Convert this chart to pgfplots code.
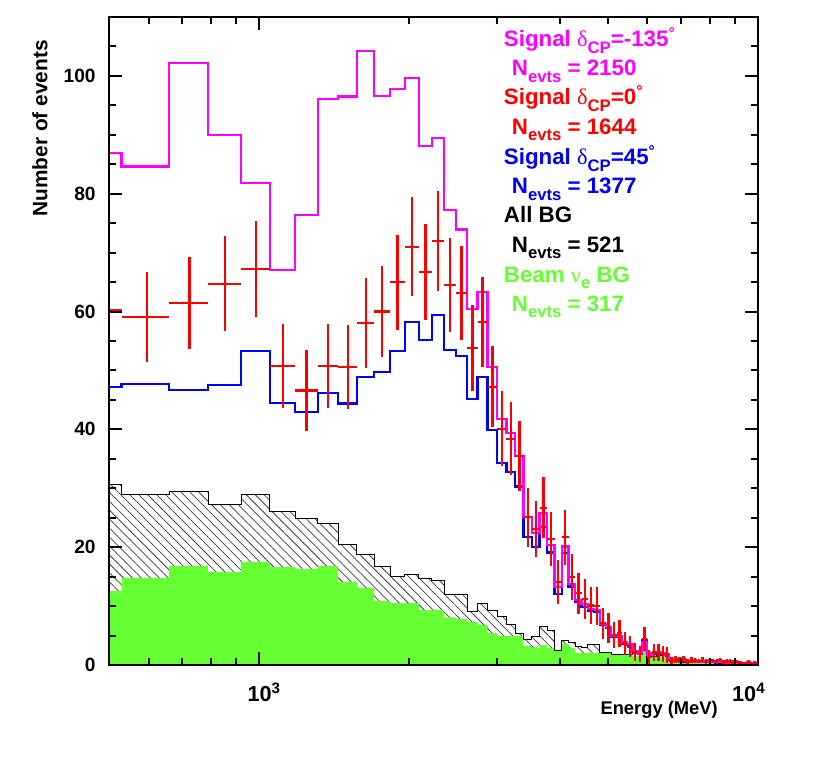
\documentclass[border=0pt]{standalone}
\usepackage{fontspec}
\setmainfont{Liberation Sans}
\newfontfamily\symfont{Liberation Serif}
\usepackage{pgfplots}
\usepackage{pgfplotstable}
\pgfplotsset{compat=1.18}
\usetikzlibrary{patterns.meta}

\definecolor{bggreen}{RGB}{102,255,51}
\definecolor{sigmag}{rgb}{1,0,1}
\definecolor{sigred}{rgb}{1,0,0}
\definecolor{sigblue}{rgb}{0,0,1}
\newcommand\sub[1]{\raisebox{-0.55ex}{\fontsize{10}{10}\selectfont #1}}
\newcommand\legfont{\fontsize{13.4}{14}\selectfont\bfseries}

% bins of 130 MeV: lower edge, centre, signal (-135, 45, 0), error, all BG, beam nue BG
\pgfplotstableread{
lo    c     mag    blu   red   ey    bg    beam
400   465   86.9   47.2  60.3  7.77  30.6  12.6
530   595   84.6   47.7  59.1  7.69  29.0  14.8
660   725   102.2  46.7  61.5  7.84  29.4  16.8
790   855   90.0   47.5  64.7  8.04  27.2  15.8
920   985   81.8   53.3  67.2  8.20  28.9  17.5
1050  1115  67.0   44.5  50.8  7.13  26.0  16.6
1180  1245  76.4   42.9  46.6  6.83  24.8  16.3
1310  1375  96.1   46.2  50.8  7.13  24.1  16.8
1440  1505  96.5   44.4  50.6  7.11  20.4  14.1
1570  1635  104.2  48.9  58.1  7.62  18.8  13.1
1700  1765  96.6   49.7  60.0  7.75  16.7  10.9
1830  1895  97.8   53.3  65.0  8.06  15.1  10.5
1960  2025  99.7   58.2  71.0  8.43  15.3  10.5
2090  2155  88.1   55.2  66.7  8.17  14.6  9.3
2220  2285  89.5   59.4  72.0  8.49  14.4  9.3
2350  2415  77.2   53.5  64.5  8.03  11.9  8.1
2480  2545  73.9   52.5  63.2  7.95  11.9  7.8
2610  2675  60.4   45.2  53.8  7.33  9.0   7.3
2740  2805  63.3   48.9  58.2  7.63  10.5  6.8
2870  2935  50.6   39.9  47.2  6.87  9.2   5.4
3000  3065  41.8   34.3  40.1  6.33  8.2   4.9
3130  3195  39.4   32.8  38.4  6.20  6.8   4.9
3260  3325  35.5   30.3  35.5  5.96  5.4   4.9
3390  3455  25.1   21.7  25.1  5.01  4.4   3.2
3520  3585  22.4   20.0  23.1  4.81  4.9   3.0
3650  3715  25.8   23.4  26.7  5.17  6.5   3.4
3780  3845  20.4   19.1  21.4  4.63  5.8   2.9
3910  3975  13.2   12.1  14.1  3.75  2.5   2.5
4040  4105  20.1   19.0  21.7  4.66  4.2   3.6
4170  4235  13.8   13.3  14.9  3.86  3.9   2.9
4300  4365  11.0   10.7  12.2  3.49  3.2   2.0
4430  4495  10.3   9.8   11.2  3.35  3.0   2.0
4560  4625  9.5    9.2   10.1  3.18  3.4   2.1
4690  4755  9.3    9.0   10.0  3.16  3.4   2.1
4820  4885  7.0    6.8   7.1   2.66  2.2   2.0
4950  5015  6.5    6.3   6.3   2.51  2.2   2.0
5080  5145  5.0    4.8   5.1   2.26  1.8   1.8
5210  5275  4.9    4.7   5.4   2.32  1.8   1.7
5340  5405  3.8    3.6   3.7   1.92  1.8   1.7
5470  5535  3.6    3.4   3.1   1.76  1.8   1.6
5600  5665  2.3    2.2   2.2   1.48  2.0   1.5
5730  5795  2.0    2.0   1.9   1.38  1.7   1.5
5860  5925  3.9    4.2   4.4   2.10  2.4   2.0
5990  6055  1.8    1.7   1.4   1.18  1.2   1.2
6120  6185  2.0    1.9   2.1   1.45  1.5   1.4
6250  6315  2.0    1.9   2.1   1.45  1.6   1.5
6380  6445  2.0    1.9   1.9   1.38  1.6   1.5
6510  6575  1.8    1.7   1.7   1.30  1.4   1.3
6640  6705  1.0    0.9   0.7   0.60  1.0   0.9
6770  6835  0.8    0.8   1.0   0.60  0.9   0.8
6900  6965  0.8    0.7   0.9   0.50  0.9   0.8
7030  7095  0.7    0.6   1.0   0.50  0.8   0.7
7160  7225  0.7    0.6   0.6   0.40  0.8   0.7
7290  7355  0.7    0.6   0.9   0.50  0.7   0.6
7420  7485  0.6    0.6   0.8   0.40  0.7   0.6
7550  7615  0.6    0.5   0.7   0.40  0.7   0.6
7680  7745  0.6    0.5   0.9   0.40  0.6   0.6
7810  7875  0.6    0.5   0.6   0.40  0.6   0.5
7940  8005  0.5    0.5   0.8   0.40  0.6   0.5
8070  8135  0.5    0.5   0.7   0.40  0.6   0.5
8200  8265  0.5    0.4   0.6   0.35  0.5   0.5
8330  8395  0.5    0.4   0.8   0.35  0.5   0.5
8460  8525  0.5    0.4   0.5   0.35  0.5   0.4
8590  8655  0.4    0.4   0.7   0.35  0.5   0.4
8720  8785  0.4    0.4   0.6   0.35  0.5   0.4
8850  8915  0.4    0.4   0.5   0.30  0.4   0.4
8980  9045  0.4    0.3   0.6   0.30  0.4   0.4
9110  9175  0.4    0.3   0.4   0.30  0.4   0.3
9240  9305  0.3    0.3   0.3   0.25  0.4   0.3
9370  9435  0.3    0.3   0.2   0.25  0.3   0.3
9500  9565  0.4    0.3   0.5   0.30  0.3   0.3
9630  9695  0.3    0.3   0.2   0.25  0.3   0.3
9760  9825  0.3    0.3   0.4   0.25  0.3   0.3
9890  9955  0.3    0.2   0.3   0.25  0.3   0.3
10020 10085 0.3    0.2   0.3   0.25  0.3   0.3
}\data

\begin{document}
\begin{tikzpicture}
\begin{axis}[
  scale only axis, width=389.4pt, height=388.8pt,
  xmode=log, xmin=500, xmax=10000, ymin=0, ymax=110,
  axis on top,
  axis line style={line width=1pt},
  tick align=inside, tick pos=both,
  xtick={1000,10000},
  xticklabels={{\hspace*{6pt}10\textsuperscript{3}},{\hspace*{-11pt}10\textsuperscript{4}}},
  minor xtick={600,700,800,900,2000,3000,4000,5000,6000,7000,8000,9000},
  ytick={0,20,...,100},
  minor ytick={5,10,...,105},
  major tick length=8pt, minor tick length=4.2pt,
  every major tick/.append style={draw=black, line width=1.2pt},
  every minor tick/.append style={draw=black, line width=1.2pt},
  /pgf/number format/assume math mode=true,
  yticklabel style={font=\fontsize{11.5}{12}\selectfont\bfseries, xshift=-4.5pt},
  xticklabel style={font=\fontsize{13}{14}\selectfont\bfseries, yshift=-7.5pt},
  xlabel={Energy (MeV)},
  ylabel={Number of events},
  xlabel style={at={(axis description cs:0.9384,-0.056)}, anchor=north east,
    inner sep=0pt, font=\fontsize{11}{12}\selectfont\bfseries},
  ylabel style={at={(axis description cs:-0.1063,0.9645)}, anchor=east,
    inner sep=0pt, font=\fontsize{12.5}{13}\selectfont\bfseries},
]
% all background, hatched
\addplot[const plot mark left, draw=none,
  pattern={Lines[angle=-45, distance=3.8pt, line width=0.45pt]},
  pattern color=black!75] table[x=lo, y=bg] \data \closedcycle;
% beam nue background, filled
\addplot[const plot mark left, draw=none, fill=bggreen]
  table[x=lo, y=beam] \data \closedcycle;
\addplot[const plot mark left, black, line width=0.6pt] table[x=lo, y=bg] \data;
% signal delta_CP = 45
\addplot[const plot mark left, sigblue, line width=1.4pt] table[x=lo, y=blu] \data;
% signal delta_CP = -135
\addplot[const plot mark left, sigmag, line width=1.4pt] table[x=lo, y=mag] \data;
% signal delta_CP = 0, crosses
\addplot[draw=none, mark=none,
  error bars/.cd, x dir=both, x fixed=65, y dir=both, y explicit,
  error mark=none, error bar style={draw=sigred, line width=1.4pt}]
  table[x=c, y=red, y error=ey] \data;

% inward tick marks on all four sides
\pgfplotsinvokeforeach{600,700,800,900,2000,3000,4000,5000,6000,7000,8000,9000}{
  \draw[black, line width=1.2pt] (axis cs:#1,0) -- ([yshift=4.2pt]axis cs:#1,0);
  \draw[black, line width=1.2pt] (axis cs:#1,110) -- ([yshift=-4.2pt]axis cs:#1,110);
}
\draw[black, line width=1.2pt] (axis cs:1000,0) -- ([yshift=8pt]axis cs:1000,0);
\draw[black, line width=1.2pt] (axis cs:1000,110) -- ([yshift=-8pt]axis cs:1000,110);
\pgfplotsinvokeforeach{5,10,15,25,30,35,45,50,55,65,70,75,85,90,95,105}{
  \draw[black, line width=1.2pt] (axis cs:500,#1) -- ([xshift=4.2pt]axis cs:500,#1);
  \draw[black, line width=1.2pt] (axis cs:10000,#1) -- ([xshift=-4.2pt]axis cs:10000,#1);
}
\pgfplotsinvokeforeach{20,40,60,80,100}{
  \draw[black, line width=1.2pt] (axis cs:500,#1) -- ([xshift=8pt]axis cs:500,#1);
  \draw[black, line width=1.2pt] (axis cs:10000,#1) -- ([xshift=-8pt]axis cs:10000,#1);
}

\node[anchor=base west, font=\legfont, text=sigmag] at (axis description cs:0.5994,0.9537)
  {Signal {\symfont\mdseries δ}\sub{CP}=-135\textsuperscript{°}};
\node[anchor=base west, font=\legfont, text=sigmag] at (axis description cs:0.6117,0.9090)
  {N\sub{evts} = 2150};
\node[anchor=base west, font=\legfont, text=sigred] at (axis description cs:0.5994,0.8642)
  {Signal {\symfont\mdseries δ}\sub{CP}=0\textsuperscript{°}};
\node[anchor=base west, font=\legfont, text=sigred] at (axis description cs:0.6117,0.8194)
  {N\sub{evts} = 1644};
\node[anchor=base west, font=\legfont, text=sigblue] at (axis description cs:0.5994,0.7716)
  {Signal {\symfont\mdseries δ}\sub{CP}=45\textsuperscript{°}};
\node[anchor=base west, font=\legfont, text=sigblue] at (axis description cs:0.6117,0.7269)
  {N\sub{evts} = 1377};
\node[anchor=base west, font=\legfont, text=black] at (axis description cs:0.5994,0.6821)
  {All BG};
\node[anchor=base west, font=\legfont, text=black] at (axis description cs:0.6117,0.6373)
  {N\sub{evts} = 521};
\node[anchor=base west, font=\legfont, text=bggreen] at (axis description cs:0.5994,0.5910)
  {Beam {\symfont\mdseries ν}\sub{e} BG};
\node[anchor=base west, font=\legfont, text=bggreen] at (axis description cs:0.6117,0.5463)
  {N\sub{evts} = 317};
\end{axis}
\path ([shift={(-65.4pt,-56.4pt)}]current axis.south west)
  rectangle ([shift={(34.2pt,10.2pt)}]current axis.north east);
\end{tikzpicture}
\end{document}
